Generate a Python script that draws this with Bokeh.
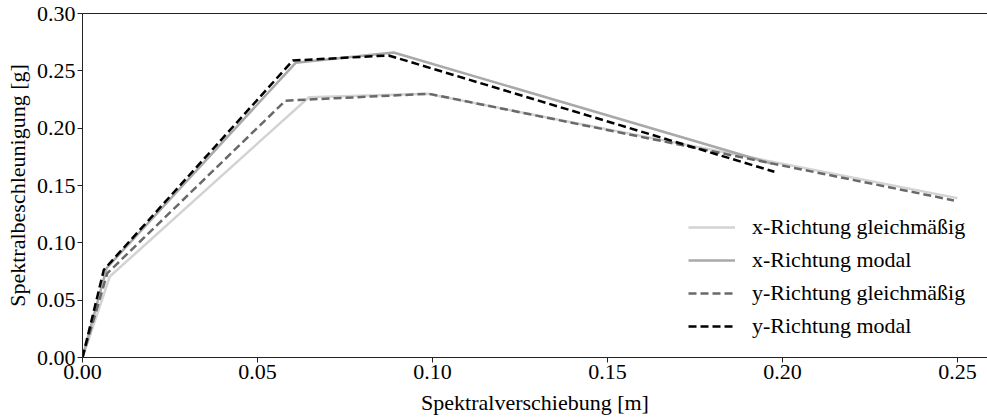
from bokeh.plotting import figure
from bokeh.models import FixedTicker, NumeralTickFormatter, LinearAxis, Legend, LegendItem, Range1d
from bokeh.embed import file_html
from bokeh.resources import INLINE

# data
x_gleich_d = [0.0, 0.0078, 0.0647, 0.0985, 0.250]
x_gleich_a = [0.0, 0.0706, 0.227, 0.230, 0.139]
x_modal_d = [0.0, 0.0069, 0.0609, 0.0889, 0.197]
x_modal_a = [0.0, 0.078, 0.257, 0.266, 0.169]
y_gleich_d = [0.0, 0.0071, 0.058, 0.099, 0.249]
y_gleich_a = [0.0, 0.0735, 0.224, 0.230, 0.137]
y_modal_d = [0.0, 0.0061, 0.0601, 0.0875, 0.1977]
y_modal_a = [0.0, 0.0765, 0.259, 0.2634, 0.162]

labels = ["x-Richtung gleichmäßig", "x-Richtung modal", "y-Richtung gleichmäßig", "y-Richtung modal"]
x_ticks = [0.0, 0.05, 0.10, 0.15, 0.20, 0.25]
y_ticks = [0.0, 0.05, 0.10, 0.15, 0.20, 0.25, 0.30]

FONT = "Liberation Serif"
FS = "22px"

p = figure(width=987, height=417, output_backend="svg", toolbar_location=None,
           x_range=Range1d(0, 0.2586), y_range=Range1d(0, 0.30),
           min_border_left=82, min_border_right=0, min_border_top=13, min_border_bottom=60)
p.outline_line_color = None
p.xgrid.visible = False
p.ygrid.visible = False
p.background_fill_color = "white"

r1 = p.line(x_gleich_d, x_gleich_a, line_color="#d3d3d3", line_width=2.5)
r2 = p.line(x_modal_d, x_modal_a, line_color="#a9a9a9", line_width=2.5)
r3 = p.line(y_gleich_d, y_gleich_a, line_color="#696969", line_width=2.5, line_dash="8 4")
r4 = p.line(y_modal_d, y_modal_a, line_color="#000000", line_width=2.5, line_dash="8 4")

for ax, ticks in ((p.xaxis[0], x_ticks), (p.yaxis[0], y_ticks)):
    ax.ticker = FixedTicker(ticks=ticks)
    ax.formatter = NumeralTickFormatter(format="0.00")
    ax.minor_tick_line_color = None
    ax.major_tick_in = 0
    ax.major_tick_out = 5
    ax.axis_line_color = "#222222"
    ax.major_tick_line_color = "#222222"
    ax.major_label_text_font = FONT
    ax.major_label_text_font_size = FS
    ax.major_label_text_color = "black"
    ax.axis_label_text_font = FONT
    ax.axis_label_text_font_size = FS
    ax.axis_label_text_font_style = "normal"
    ax.axis_label_text_color = "black"

p.xaxis[0].axis_label = "Spektralverschiebung [m]"
p.yaxis[0].axis_label = "Spektralbeschleunigung [g]"
p.xaxis[0].major_label_standoff = 2
p.xaxis[0].axis_label_standoff = 8
p.yaxis[0].major_label_standoff = 2
p.yaxis[0].axis_label_standoff = 4

top = LinearAxis(ticker=FixedTicker(ticks=[]), major_label_text_font_size="0px",
                 major_tick_out=0, major_tick_in=0, minor_tick_out=0, minor_tick_in=0,
                 axis_line_color="#222222")
p.add_layout(top, "above")

legend = Legend(items=[LegendItem(label=l, renderers=[r]) for l, r in zip(labels, [r1, r2, r3, r4])],
                location=(606, 18), border_line_color=None, background_fill_alpha=0,
                label_text_font=FONT, label_text_font_size=FS, label_text_color="black",
                glyph_width=47, glyph_height=20, label_height=20, label_standoff=17,
                spacing=7, padding=0, margin=0)
p.add_layout(legend, "center")

open("out.html", "w").write(file_html(p, INLINE))
